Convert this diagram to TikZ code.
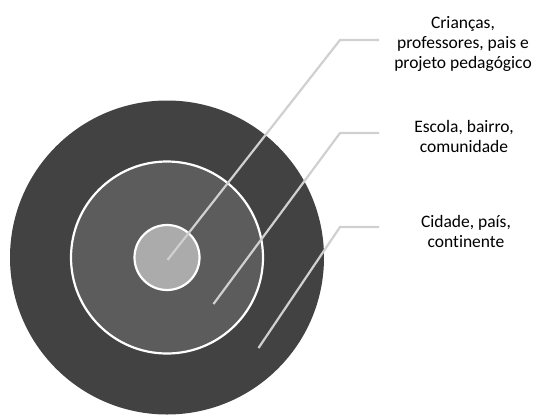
\documentclass[tikz,border=0pt]{standalone}
\usepackage{fontspec}
\setmainfont{Carlito}[Ligatures=NoCommon]
\definecolor{ringout}{HTML}{424242}
\definecolor{ringmid}{HTML}{5C5C5C}
\definecolor{ringin}{HTML}{ABABAB}
\definecolor{leader}{HTML}{D0D0D0}
\begin{document}
\begin{tikzpicture}[x=1pt, y=-1pt,
    ring/.style={draw=white, line width=2.2pt},
    leadline/.style={draw=leader, line width=2.2pt},
    label/.style={align=center, inner sep=0pt, text=black, font=\fontsize{17.5}{20}\selectfont}]
    \useasboundingbox (0,0) rectangle (539,416);
    % circles
    \coordinate (c) at (167,257.5);
    \fill[ringout] (c) circle (157);
    \path[ring, fill=ringmid] (c) circle (96);
    \path[ring, fill=ringin] (c) circle (32.5);
    % labels
    \node[label] (kids) at (463,44) {Crianças,\\professores, pais e\\projeto pedagógico};
    \node[label] (school) at (464,136) {Escola, bairro,\\comunidade};
    \node[label] (city) at (466,231) {Cidade, país,\\continente};
    % leader lines
    \coordinate (kidsA) at (167.5,260);
    \coordinate (kidsB) at (340,40);
    \coordinate (kidsC) at (379,40);
    \coordinate (schoolA) at (213.5,304);
    \coordinate (schoolB) at (340,133);
    \coordinate (schoolC) at (379,133);
    \coordinate (cityA) at (258.5,348);
    \coordinate (cityB) at (340,227);
    \coordinate (cityC) at (379,227);
    \draw[leadline] (kidsA) -- (kidsB) -- (kidsC);
    \draw[leadline] (schoolA) -- (schoolB) -- (schoolC);
    \draw[leadline] (cityA) -- (cityB) -- (cityC);
\end{tikzpicture}
\end{document}
